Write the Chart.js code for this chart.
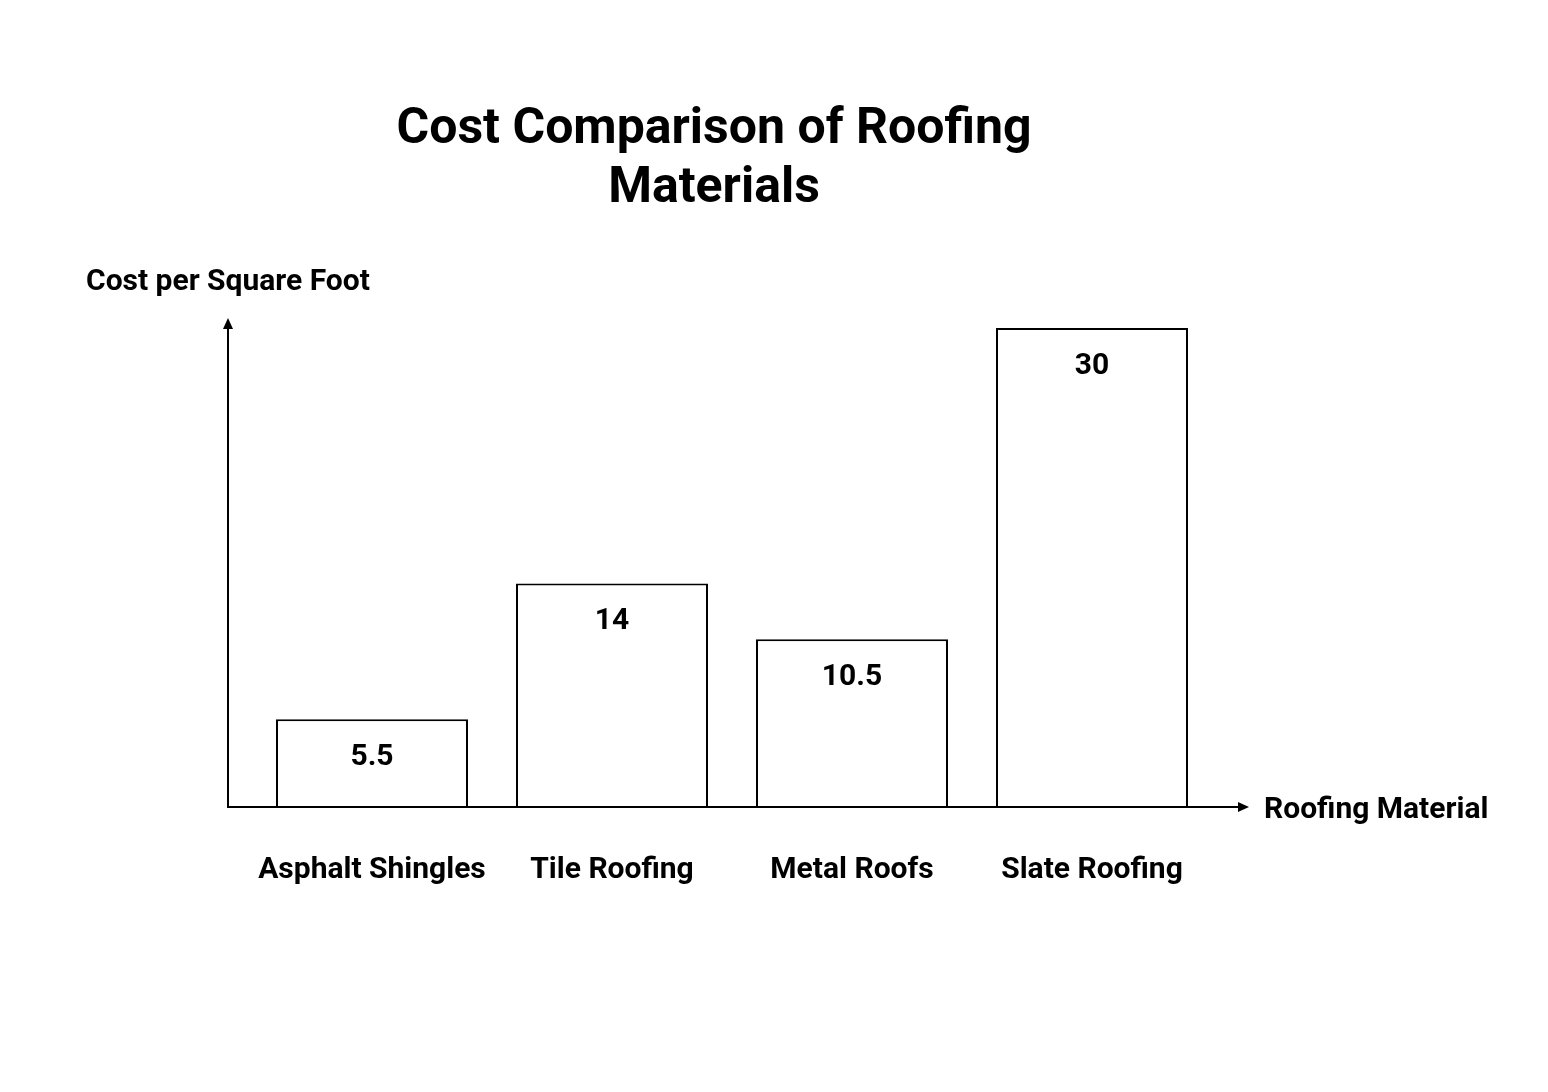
<!DOCTYPE html>
<html>
<head>
<meta charset="utf-8">
<title>Cost Comparison of Roofing Materials</title>
<script src="https://cdn.jsdelivr.net/npm/chart.js@4/dist/chart.umd.min.js"></script>
<style>
    html, body {
        margin: 0;
        padding: 0;
        background: #ffffff;
    }
</style>
</head>
<body>
<canvas id="roofChart" width="1548" height="1092"></canvas>
<script>

const materials = [
    "Asphalt Shingles",
    "Tile Roofing",
    "Metal Roofs",
    "Slate Roofing"
];

const costPerSquareFoot = [5.5, 14, 10.5, 30];

const titleLines = [
    "Cost Comparison of Roofing",
    "Materials"
];

const yAxisTitle = "Cost per Square Foot";
const xAxisTitle = "Roofing Material";

const FONT = "Roboto, 'Noto Sans', sans-serif";

// draws the arrow axes, titles and labels on top of the bars
const roofLabels = {
    id: "roofLabels",

    afterDatasetsDraw: function(chart) {

        const ctx = chart.ctx;
        const area = chart.chartArea;
        const xScale = chart.scales.x;
        const meta = chart.getDatasetMeta(0);

        const originX = area.left - 24;
        const originY = area.bottom;
        const topY = area.top - 8;
        const endX = area.right + 35;

        ctx.save();

        ctx.strokeStyle = "#000000";
        ctx.fillStyle = "#000000";
        ctx.lineWidth = 2;

        // axes
        ctx.beginPath();
        ctx.moveTo(originX, topY + 4);
        ctx.lineTo(originX, originY);
        ctx.lineTo(endX - 4, originY);
        ctx.stroke();

        // arrow heads
        ctx.beginPath();
        ctx.moveTo(originX, topY - 2);
        ctx.lineTo(originX - 5, topY + 9);
        ctx.lineTo(originX + 5, topY + 9);
        ctx.closePath();
        ctx.fill();

        ctx.beginPath();
        ctx.moveTo(endX + 2, originY);
        ctx.lineTo(endX - 9, originY - 5);
        ctx.lineTo(endX - 9, originY + 5);
        ctx.closePath();
        ctx.fill();

        ctx.textBaseline = "middle";

        // title
        ctx.font = "bold 50px " + FONT;
        ctx.textAlign = "center";
        titleLines.forEach(
            function(line, i) {
                ctx.fillText(line, 714, 130 + i * 59);
            }
        );

        // axis titles
        ctx.font = "bold 30px " + FONT;
        ctx.textAlign = "left";
        ctx.fillText(yAxisTitle, 86, area.top - 46);
        ctx.fillText(xAxisTitle, endX + 17, originY + 3);

        // category labels
        ctx.textAlign = "center";
        materials.forEach(
            function(name, i) {
                ctx.fillText(
                    name,
                    xScale.getPixelForValue(i),
                    originY + 63
                );
            }
        );

        // value labels inside bars
        meta.data.forEach(
            function(bar, i) {
                ctx.fillText(
                    String(costPerSquareFoot[i]),
                    bar.x,
                    bar.y + 38
                );
            }
        );

        ctx.restore();
    }
};

const whiteBackground = {
    id: "whiteBackground",

    beforeDraw: function(chart) {
        const ctx = chart.ctx;
        ctx.save();
        ctx.fillStyle = "#ffffff";
        ctx.fillRect(0, 0, chart.width, chart.height);
        ctx.restore();
    }
};

new Chart(
    document.getElementById("roofChart"),
    {
        type: "bar",

        data: {
            labels: materials,
            datasets: [
                {
                    data: costPerSquareFoot,
                    backgroundColor: "#ffffff",
                    borderColor: "#000000",
                    borderWidth: 2,
                    categoryPercentage: 1.0,
                    barPercentage: 0.8
                }
            ]
        },

        options: {
            responsive: false,
            animation: false,
            devicePixelRatio: 1,
            layout: {
                padding: {
                    left: 252,
                    right: 336,
                    top: 328,
                    bottom: 285
                }
            },
            scales: {
                x: {
                    display: false
                },
                y: {
                    display: false,
                    min: 0,
                    max: 30
                }
            },
            plugins: {
                legend: { display: false },
                tooltip: { enabled: false }
            }
        },

        plugins: [whiteBackground, roofLabels]
    }
);

</script>
</body>
</html>
